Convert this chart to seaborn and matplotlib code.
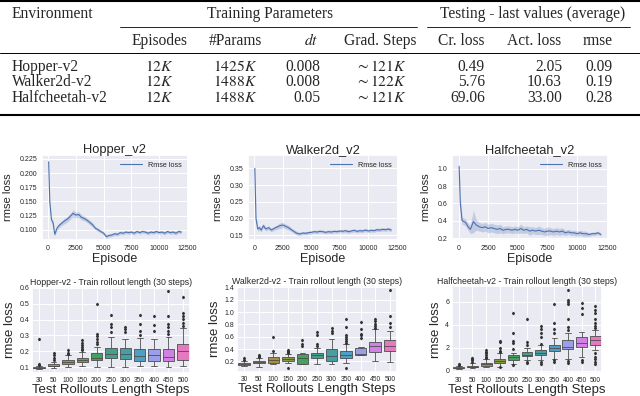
import matplotlib
matplotlib.use("Agg")
import matplotlib.pyplot as plt
from matplotlib.lines import Line2D
from matplotlib.ticker import MultipleLocator
import seaborn as sns

# ---- table ----
env_names = ["Hopper-v2", "Walker2d-v2", "Halfcheetah-v2"]
episodes_col = [r"$12K$", r"$12K$", r"$12K$"]
params_col = [r"$1425K$", r"$1488K$", r"$1488K$"]
dt_col = ["0.008", "0.008", "0.05"]
grad_steps_col = [r"$\sim121K$", r"$\sim122K$", r"$\sim121K$"]
critic_loss = ["0.49", "5.76", "69.06"]
actor_loss = ["2.05", "10.63", "33.00"]
rmse_last = ["0.09", "0.19", "0.28"]

# ---- training curves ----
episode = [50, 150, 300, 450, 600, 800, 1000, 1250, 1500, 1750, 2000, 2250, 2500,
           2750, 3000, 3250, 3500, 3750, 4000, 4250, 4500, 4750, 5000, 5250, 5500,
           5750, 6000, 6250, 6500, 6750, 7000, 7250, 7500, 7750, 8000, 8250, 8500,
           8750, 9000, 9250, 9500, 9750, 10000, 10250, 10500, 10750, 11000, 11250,
           11500, 11750, 12000]

hopper_rmse = [0.220, 0.150, 0.118, 0.112, 0.092, 0.103, 0.108, 0.112, 0.116, 0.119,
               0.124, 0.129, 0.126, 0.127, 0.122, 0.120, 0.117, 0.113, 0.109, 0.103,
               0.100, 0.097, 0.094, 0.088, 0.090, 0.091, 0.093, 0.092, 0.095, 0.094,
               0.096, 0.095, 0.096, 0.094, 0.097, 0.095, 0.097, 0.096, 0.094, 0.096,
               0.095, 0.097, 0.095, 0.096, 0.094, 0.097, 0.095, 0.096, 0.094, 0.097, 0.096]
hopper_band = [0.004, 0.006, 0.004, 0.004, 0.003, 0.004, 0.004, 0.004, 0.005, 0.005,
               0.005, 0.006, 0.005, 0.005, 0.005, 0.004, 0.004, 0.004, 0.004, 0.003,
               0.003, 0.003, 0.003, 0.003, 0.003, 0.003, 0.003, 0.003, 0.003, 0.003,
               0.003, 0.003, 0.003, 0.003, 0.003, 0.003, 0.003, 0.003, 0.003, 0.003,
               0.003, 0.003, 0.003, 0.003, 0.003, 0.003, 0.003, 0.003, 0.003, 0.003, 0.003]

walker_rmse = [0.350, 0.200, 0.168, 0.172, 0.165, 0.178, 0.168, 0.172, 0.165, 0.170,
               0.174, 0.178, 0.180, 0.176, 0.172, 0.166, 0.160, 0.155, 0.153, 0.156,
               0.155, 0.157, 0.158, 0.160, 0.159, 0.161, 0.160, 0.158, 0.160, 0.159,
               0.161, 0.160, 0.162, 0.161, 0.163, 0.160, 0.162, 0.164, 0.161, 0.163,
               0.162, 0.165, 0.162, 0.164, 0.163, 0.166, 0.165, 0.167, 0.166, 0.168, 0.165]
walker_band = [0.006, 0.010, 0.007, 0.007, 0.007, 0.007, 0.006, 0.006, 0.006, 0.006,
               0.007, 0.008, 0.008, 0.007, 0.007, 0.006, 0.006, 0.006, 0.005, 0.005,
               0.005, 0.005, 0.005, 0.005, 0.005, 0.005, 0.005, 0.005, 0.005, 0.005,
               0.005, 0.005, 0.005, 0.005, 0.005, 0.005, 0.005, 0.005, 0.005, 0.005,
               0.005, 0.005, 0.005, 0.005, 0.005, 0.005, 0.005, 0.005, 0.005, 0.005, 0.005]

cheetah_rmse = [1.03, 0.60, 0.40, 0.39, 0.38, 0.33, 0.30, 0.39, 0.35, 0.33,
                0.32, 0.33, 0.31, 0.32, 0.31, 0.30, 0.31, 0.29, 0.30, 0.30,
                0.29, 0.30, 0.29, 0.31, 0.29, 0.30, 0.28, 0.29, 0.28, 0.29,
                0.28, 0.27, 0.28, 0.28, 0.27, 0.28, 0.27, 0.28, 0.26, 0.27,
                0.26, 0.26, 0.25, 0.26, 0.25, 0.25, 0.24, 0.25, 0.25, 0.26, 0.24]
cheetah_band = [0.03, 0.10, 0.04, 0.04, 0.04, 0.04, 0.05, 0.13, 0.06, 0.05,
                0.05, 0.05, 0.05, 0.05, 0.05, 0.05, 0.05, 0.04, 0.04, 0.04,
                0.04, 0.04, 0.04, 0.05, 0.04, 0.04, 0.05, 0.04, 0.04, 0.05,
                0.04, 0.04, 0.05, 0.04, 0.04, 0.04, 0.04, 0.04, 0.03, 0.03,
                0.03, 0.03, 0.03, 0.03, 0.03, 0.03, 0.02, 0.02, 0.02, 0.02, 0.02]

# ---- rollout-length box plots ----
rollout_steps = ["30", "50", "100", "150", "200", "250", "300", "350", "400", "450", "500"]

hopper_q1 = [0.093, 0.105, 0.120, 0.135, 0.145, 0.155, 0.150, 0.140, 0.140, 0.140, 0.145]
hopper_med = [0.097, 0.110, 0.130, 0.145, 0.160, 0.180, 0.185, 0.170, 0.175, 0.165, 0.200]
hopper_q3 = [0.100, 0.118, 0.145, 0.160, 0.190, 0.220, 0.220, 0.215, 0.215, 0.215, 0.245]
hopper_lo = [0.088, 0.095, 0.100, 0.110, 0.100, 0.100, 0.100, 0.105, 0.105, 0.100, 0.105]
hopper_hi = [0.110, 0.135, 0.175, 0.195, 0.230, 0.290, 0.275, 0.285, 0.280, 0.290, 0.345]
hopper_fl = [[0.115, 0.120, 0.275], [0.145, 0.160, 0.175, 0.190], [0.180, 0.190, 0.205],
             [0.205, 0.215, 0.225, 0.240, 0.255, 0.270], [0.245, 0.260, 0.280, 0.295, 0.310, 0.500],
             [0.320, 0.350, 0.370, 0.430], [0.320, 0.340, 0.350], [0.300, 0.330, 0.370, 0.430],
             [0.330, 0.365, 0.420], [0.310, 0.330, 0.355, 0.370, 0.420, 0.580],
             [0.360, 0.380, 0.405, 0.420, 0.440, 0.540]]

walker_q1 = [0.14, 0.17, 0.18, 0.20, 0.16, 0.25, 0.20, 0.25, 0.30, 0.35, 0.36]
walker_med = [0.15, 0.19, 0.22, 0.24, 0.26, 0.30, 0.28, 0.30, 0.32, 0.45, 0.45]
walker_q3 = [0.17, 0.21, 0.27, 0.27, 0.32, 0.34, 0.40, 0.37, 0.42, 0.52, 0.55]
walker_lo = [0.12, 0.10, 0.15, 0.17, 0.15, 0.16, 0.16, 0.18, 0.30, 0.20, 0.19]
walker_hi = [0.20, 0.25, 0.33, 0.32, 0.33, 0.42, 0.57, 0.48, 0.43, 0.72, 0.70]
walker_fl = [[0.22, 0.25], [0.27, 0.29, 0.30], [0.36, 0.60], [0.09, 0.33, 0.35, 0.37, 0.39],
             [0.45, 0.48, 0.55], [0.45, 0.48, 0.62, 0.68], [0.66, 0.70, 0.74],
             [0.09, 0.50, 0.53, 0.56, 0.60, 0.62, 0.76, 0.88], [0.58, 0.62, 0.65, 0.73, 0.84],
             [0.74, 0.77, 0.80, 0.85, 0.88], [0.76, 0.82, 0.93, 1.36]]

cheetah_q1 = [0.22, 0.30, 0.45, 0.70, 0.95, 1.25, 1.40, 1.70, 1.90, 2.05, 2.20]
cheetah_med = [0.26, 0.36, 0.55, 0.85, 1.15, 1.40, 1.55, 1.95, 2.05, 2.40, 2.70]
cheetah_q3 = [0.30, 0.45, 0.70, 1.05, 1.35, 1.60, 1.80, 2.25, 2.65, 2.90, 3.00]
cheetah_lo = [0.15, 0.20, 0.30, 0.35, 0.60, 0.90, 0.90, 1.00, 1.00, 1.20, 1.80]
cheetah_hi = [0.42, 0.65, 1.00, 1.50, 1.50, 2.00, 2.20, 2.80, 3.30, 3.40, 3.50]
cheetah_fl = [[0.5, 0.6], [0.75, 0.9, 1.0, 1.1], [1.1, 1.2, 1.35, 1.5, 1.65, 1.8],
              [0.3, 1.6, 1.75, 2.0, 2.45, 2.6], [0.5, 1.9, 2.4, 2.6, 3.3, 5.0],
              [0.65, 0.8, 2.2, 2.5, 4.5], [0.6, 0.75, 2.3, 2.9, 3.3, 3.6, 3.9],
              [0.8, 0.9, 3.3, 3.6, 4.1, 5.8], [0.7, 0.85, 3.5, 3.8, 4.5, 5.8, 6.0, 6.1, 7.0],
              [0.8, 0.9, 4.9, 5.4, 5.9], [0.6, 0.8, 1.0, 1.2, 1.5, 3.7, 3.9, 4.1, 4.5, 5.0, 5.3, 5.6]]

sns.set_theme(style="darkgrid")
plt.rcParams["font.family"] = ["Liberation Sans", "DejaVu Sans"]
plt.rcParams["mathtext.fontset"] = "stix"

W, H = 640, 396
fig = plt.figure(figsize=(6.4, 3.96), dpi=100)


def rect(x0, y0, x1, y1):
    return [x0 / W, 1 - y1 / H, (x1 - x0) / W, (y1 - y0) / H]


def hline(x0, x1, y, lw):
    fig.add_artist(Line2D([x0 / W, x1 / W], [1 - y / H, 1 - y / H],
                          transform=fig.transFigure, color="black", lw=lw))


def ttext(x, y, s, ha="center"):
    fig.text(x / W, 1 - y / H, s, ha=ha, va="center", fontsize=11.2,
             family="Liberation Serif")


# table rules
hline(0, 640, 1.0, 1.5)
hline(120, 417, 27, 0.6)
hline(427, 630, 27, 0.6)
hline(0, 640, 52.5, 0.7)
hline(0, 640, 115, 1.5)

ttext(12, 14, "Environment", ha="left")
ttext(270, 14, "Training Parameters")
ttext(533, 14, "Testing - last values (average)")
ttext(159, 41, "Episodes")
ttext(235, 41, "#Params")
ttext(318, 41, r"$dt$", ha="right")
ttext(380, 41, "Grad. Steps")
ttext(461, 41, "Cr. loss")
ttext(534, 41, "Act. loss")
ttext(598, 41, "rmse")

row_y = [67, 82.5, 97.5]
for i, y in enumerate(row_y):
    ttext(12, y, env_names[i], ha="left")
    ttext(159, y, episodes_col[i])
    ttext(235, y, params_col[i])
    ttext(320, y, dt_col[i], ha="right")
    ttext(381, y, grad_steps_col[i])
    ttext(485, y, critic_loss[i], ha="right")
    ttext(562, y, actor_loss[i], ha="right")
    ttext(613, y, rmse_last[i], ha="right")

# training curves
line_specs = [
    ("Hopper_v2", hopper_rmse, hopper_band, (42, 155, 188, 240), (0.082, 0.232), 0.025),
    ("Walker2d_v2", walker_rmse, walker_band, (248, 155, 398, 240), (0.135, 0.39), 0.05),
    ("Halfcheetah_v2", cheetah_rmse, cheetah_band, (452, 155, 608, 240), (0.177, 1.16), 0.2),
]
for title, vals, band, box, ylim, ystep in line_specs:
    ax = fig.add_axes(rect(*box))
    lo = [v - b for v, b in zip(vals, band)]
    hi = [v + b for v, b in zip(vals, band)]
    ax.fill_between(episode, lo, hi, color="#4C72B0", alpha=0.25, lw=0)
    sns.lineplot(x=episode, y=vals, ax=ax, color="#4C72B0", lw=0.8, label="Rmse loss")
    ax.set_xlim(-550, 12600)
    ax.set_ylim(*ylim)
    ax.xaxis.set_major_locator(MultipleLocator(2500))
    ax.yaxis.set_major_locator(MultipleLocator(ystep))
    ax.tick_params(length=0, labelsize=5, pad=3.5)
    ax.set_title(title, fontsize=9.3, pad=1.5)
    ax.set_xlabel("Episode", fontsize=9, labelpad=0.5)
    ax.set_ylabel("rmse loss", fontsize=8, labelpad=4.5)
    ax.legend(loc="upper right", fontsize=5.2, frameon=False, handlelength=3)
    ax.grid(lw=0.7)

# box plots
palette = [sns.desaturate(c, 0.75) for c in sns.color_palette("husl", len(rollout_steps))]
box_specs = [
    ("Hopper-v2 - Train rollout length (30 steps)",
     (hopper_q1, hopper_med, hopper_q3, hopper_lo, hopper_hi, hopper_fl), (32, 287, 190, 373), 0.1),
    ("Walker2d-v2 - Train rollout length (30 steps)",
     (walker_q1, walker_med, walker_q3, walker_lo, walker_hi, walker_fl), (237, 286, 397, 372), 0.2),
    ("Halfcheetah-v2 - Train rollout length (30 steps)",
     (cheetah_q1, cheetah_med, cheetah_q3, cheetah_lo, cheetah_hi, cheetah_fl), (452, 286, 602, 373), 2),
]
for title, cols, box, ystep in box_specs:
    ax = fig.add_axes(rect(*box))
    stats = [dict(q1=a, med=b, q3=c, whislo=d, whishi=e, fliers=f)
             for a, b, c, d, e, f in zip(*cols)]
    bp = ax.bxp(stats, positions=list(range(len(stats))), widths=0.8, patch_artist=True,
                boxprops=dict(edgecolor="0.3", lw=0.6),
                medianprops=dict(color="0.3", lw=0.6),
                whiskerprops=dict(color="0.3", lw=0.6),
                capprops=dict(color="0.3", lw=0.6),
                flierprops=dict(marker="d", markersize=1.3, markerfacecolor="0.2",
                                markeredgecolor="0.2"))
    for patch, c in zip(bp["boxes"], palette):
        patch.set_facecolor(c)
    ax.set_xlim(-0.5, len(stats) - 0.5)
    ax.set_xticks(range(len(rollout_steps)))
    ax.set_xticklabels(rollout_steps)
    ax.yaxis.set_major_locator(MultipleLocator(ystep))
    ax.tick_params(length=0)
    ax.tick_params(axis="x", labelsize=4.8, pad=3)
    ax.tick_params(axis="y", labelsize=5, pad=2)
    ax.set_title(title, fontsize=6.3, pad=1.5)
    ax.set_xlabel("Test Rollouts Length Steps", fontsize=9.5, labelpad=0)
    ax.set_ylabel("rmse loss", fontsize=9.5, labelpad=2.5)
    ax.grid(lw=0.7)

fig.savefig("out.png", dpi=100)
